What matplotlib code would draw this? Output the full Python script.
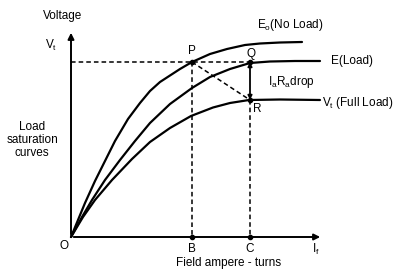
import matplotlib
matplotlib.use('Agg')
import matplotlib.pyplot as plt

# Curve points (x: field ampere-turns, y: voltage), origin at O.
e0_x = [0, 7, 14, 24, 34, 44, 57, 69, 79, 89, 109, 121, 139, 156, 174, 189, 209, 231]
e0_y = [0, 17, 34, 56, 76, 96, 118, 134, 146, 155, 168, 175, 183, 188, 192, 193.5, 194.5, 195]

e_x = [0, 11, 21, 34, 49, 64, 79, 99, 121, 139, 159, 179, 199, 224, 249]
e_y = [0, 20, 37, 57, 77, 96, 114, 133, 149, 160, 168, 174, 175.5, 176, 176]

vt_x = [0, 12, 24, 41, 61, 79, 99, 120, 142, 159, 178, 209, 249]
vt_y = [0, 20, 37, 57, 78, 95, 109, 121, 129.5, 134, 137, 137.5, 137]

# Key points
point_names = ['P', 'Q', 'R', 'B', 'C']
point_x = [121, 179, 179, 121, 179]
point_y = [175, 175, 137, 0, 0]

x_axis_end = 252
y_axis_end = 207

plt.rcParams['font.family'] = ['Liberation Sans', 'DejaVu Sans']

fig = plt.figure(figsize=(4.13, 2.76), dpi=100)
ax = fig.add_axes([0, 0, 1, 1])
ax.set_xlim(-71, 342)
ax.set_ylim(-39, 237)
ax.axis('off')

# Axes with arrows
ax.annotate('', xy=(0, y_axis_end), xytext=(0, 0),
            arrowprops=dict(arrowstyle='-|>', lw=1.4, color='black', mutation_scale=9))
ax.annotate('', xy=(x_axis_end, 0), xytext=(0, 0),
            arrowprops=dict(arrowstyle='-|>', lw=1.4, color='black', mutation_scale=9))

# Saturation curves
for cx_, cy_ in [(e0_x, e0_y), (e_x, e_y), (vt_x, vt_y)]:
    ax.plot(cx_, cy_, color='black', lw=1.6, solid_capstyle='round', solid_joinstyle='round')

px, qx, rx, bx, cx = point_x
py, qy, ry, by, cy = point_y

# Dashed construction lines
dash = dict(color='black', lw=1.1, linestyle=(0, (3, 2)))
ax.plot([0, qx], [py, qy], **dash)
ax.plot([px, bx], [py, by], **dash)
ax.plot([rx, cx], [ry, cy], **dash)
ax.plot([px, rx], [py, ry], **dash)

# IaRa drop arrow
ax.annotate('', xy=(qx, qy), xytext=(rx, ry),
            arrowprops=dict(arrowstyle='<|-|>', lw=1.3, color='black',
                            mutation_scale=6, shrinkA=0, shrinkB=0))

ax.scatter(point_x, point_y, s=9, color='black', zorder=5)

fs = 8.5
ax.text(px, py + 5, 'P', ha='center', va='bottom', fontsize=fs)
ax.text(qx + 1, qy + 2, 'Q', ha='center', va='bottom', fontsize=fs)
ax.text(rx + 3, ry - 3, 'R', ha='left', va='top', fontsize=fs)
ax.text(bx, -6, 'B', ha='center', va='top', fontsize=fs)
ax.text(cx, -6, 'C', ha='center', va='top', fontsize=fs)
ax.text(-7, -3, 'O', ha='center', va='top', fontsize=fs)
ax.text(245, -5, r'I$_\mathregular{f}$', ha='center', va='top', fontsize=fs)

ax.text(-8, 221, 'Voltage', ha='center', va='center', fontsize=fs)
ax.text(-20, 192, r'V$_\mathregular{t}$', ha='center', va='center', fontsize=fs)
ax.text(-39, 97, 'Load\nsaturation\ncurves', ha='center', va='center',
        fontsize=fs, linespacing=1.1)
ax.text(158, -26, 'Field ampere - turns', ha='center', va='center', fontsize=fs)

ax.text(186, 212, r'E$_\mathregular{o}$(No Load)', ha='left', va='center', fontsize=fs)
ax.text(260, 176, 'E(Load)', ha='left', va='center', fontsize=fs)
ax.text(197, 155, r'I$_\mathregular{a}$R$_\mathregular{a}$drop', ha='left', va='center', fontsize=fs)
ax.text(251, 134, r'V$_\mathregular{t}$ (Full Load)', ha='left', va='center', fontsize=fs)

fig.savefig('out.png', dpi=100, facecolor='white')
